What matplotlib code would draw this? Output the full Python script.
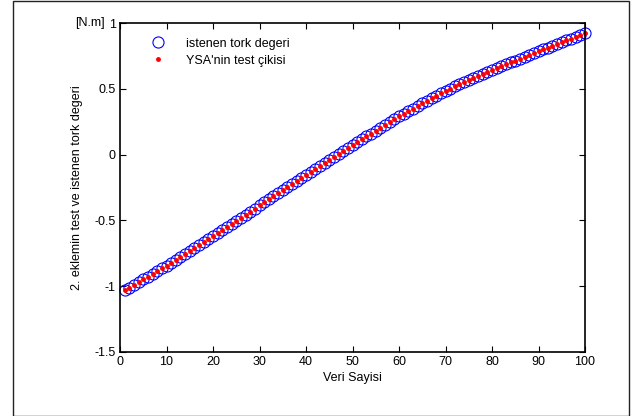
import matplotlib
matplotlib.use("Agg")
import matplotlib.pyplot as plt
from matplotlib.patches import Rectangle

plt.rcParams['font.family'] = ['Liberation Sans', 'DejaVu Sans']

# veri sayisi (1..100) ve tork degerleri [N.m]
veri_sayisi = list(range(1, 101))
istenen_tork = [
    -1.030, -1.010, -0.990, -0.969, -0.948, -0.927, -0.906, -0.885, -0.864, -0.843,
    -0.822, -0.800, -0.779, -0.757, -0.735, -0.712, -0.690, -0.667, -0.644, -0.621,
    -0.598, -0.575, -0.552, -0.528, -0.505, -0.481, -0.457, -0.434, -0.410, -0.386,
    -0.362, -0.338, -0.314, -0.290, -0.266, -0.243, -0.220, -0.197, -0.175, -0.152,
    -0.130, -0.108, -0.085, -0.063, -0.041, -0.020, 0.003, 0.025, 0.048, 0.070,
    0.093, 0.115, 0.138, 0.160, 0.183, 0.205, 0.228, 0.250, 0.270, 0.290,
    0.310, 0.330, 0.350, 0.370, 0.390, 0.410, 0.429, 0.448, 0.467, 0.485,
    0.502, 0.518, 0.534, 0.550, 0.565, 0.580, 0.595, 0.610, 0.625, 0.640,
    0.655, 0.670, 0.685, 0.700, 0.715, 0.730, 0.744, 0.758, 0.771, 0.785,
    0.799, 0.813, 0.826, 0.840, 0.854, 0.868, 0.881, 0.895, 0.910, 0.925,
]
ysa_cikis = list(istenen_tork)  # network output lies on top of the target

x_ticks = [0, 10, 20, 30, 40, 50, 60, 70, 80, 90, 100]
y_ticks = [-1.5, -1, -0.5, 0, 0.5, 1]
y_ticklabels = ['-1.5', '-1', '-0.5', '0', '0.5', '1']

fig = plt.figure(figsize=(6.42, 4.16), dpi=100)
ax = fig.add_axes([120/642, 64/416, 465/642, 329/416])

# outer frame around the whole figure
fig.patches.append(Rectangle((13/642, 0), 616/642, 415/416, transform=fig.transFigure,
                             fill=False, edgecolor='#222222', linewidth=1.0))

ax.plot(veri_sayisi, istenen_tork, 'o', markerfacecolor='none', markeredgecolor='#0000ff',
        markersize=8, markeredgewidth=0.8, label='istenen tork degeri', clip_on=False)
ax.plot(veri_sayisi, ysa_cikis, '.', color='#ff0000', markersize=5,
        label="YSA'nin test çikisi", clip_on=False)

ax.set_xlim(0, 100)
ax.set_ylim(-1.5, 1)
ax.set_xticks(x_ticks)
ax.set_yticks(y_ticks)
ax.set_yticklabels(y_ticklabels)
ax.tick_params(direction='in', top=True, right=True, length=4, width=0.8,
               labelsize=9, pad=3)
for s in ax.spines.values():
    s.set_linewidth(1.2)

ax.set_xlabel('Veri Sayisi', fontsize=9, labelpad=3)
ax.set_ylabel('2. eklemin test ve istenen tork degeri', fontsize=9, labelpad=8)
ax.text(-0.032, 1.0, '[N.m]', transform=ax.transAxes, ha='right', va='center', fontsize=9)

ax.legend(loc='upper left', frameon=False, fontsize=9, bbox_to_anchor=(0.03, 0.99),
          handletextpad=1.3, labelspacing=0.4)

fig.savefig('out.png', dpi=100)
